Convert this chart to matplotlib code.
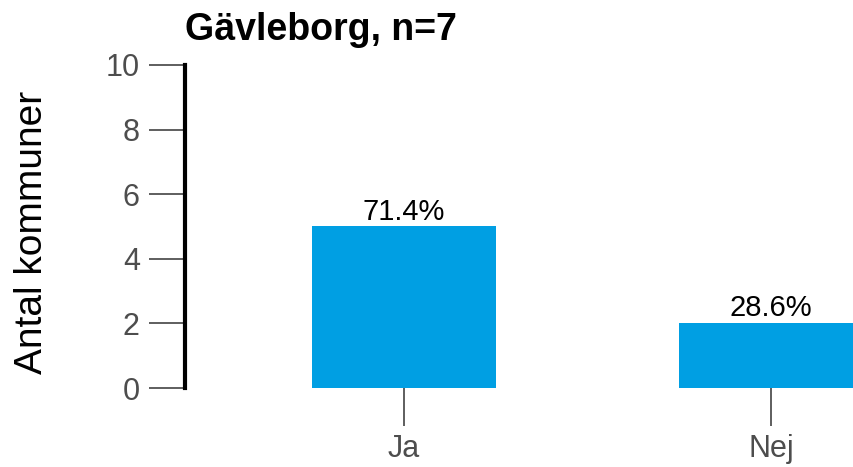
import matplotlib.pyplot as plt

plt.rcParams['font.family'] = ['Liberation Sans', 'DejaVu Sans']

# data
categories = ['Ja', 'Nej']
counts = [5, 2]
percent_labels = ['71.4%', '28.6%']
title = 'Gävleborg, n=7'
y_ticks = [0, 2, 4, 6, 8, 10]

bar_color = '#009FE3'
tick_color = '#333333'
label_color = '#4D4D4D'

fig = plt.figure(figsize=(8.54, 4.67), dpi=100)
W, H = 854, 467
ax = fig.add_axes([185 / W, 1 - 388 / H, (854 - 185) / W, (388 - 65) / H])

x = list(range(len(categories)))
ax.bar(x, counts, width=0.5, color=bar_color)

for xi, c, lab in zip(x, counts, percent_labels):
    ax.annotate(lab, (xi, c), xytext=(0, 5), textcoords='offset points',
                ha='center', va='baseline', fontsize=21, color='black')

ax.set_xlim(-0.597, 1.226)
ax.set_ylim(0, 10)
ax.set_yticks(y_ticks)
ax.set_xticks(x)
ax.set_xticklabels(categories)

for s in ['top', 'right', 'bottom']:
    ax.spines[s].set_visible(False)
ax.spines['left'].set_linewidth(3)
ax.spines['left'].set_color('black')
ax.spines['left'].set_bounds(0, 10)

ax.tick_params(axis='y', length=26, width=1.1, color=tick_color, pad=6.5,
               labelsize=22, labelcolor=label_color)
ax.tick_params(axis='x', length=27, width=1.1, color=tick_color, pad=6,
               labelsize=22, labelcolor=label_color)

ax.set_ylabel('Antal kommuner', fontsize=28, color='black')
ax.yaxis.set_label_coords(-0.202, 0.483)

ax.set_title(title, loc='left', fontsize=27, fontweight='bold', pad=18)

fig.savefig('out.png', dpi=100)
